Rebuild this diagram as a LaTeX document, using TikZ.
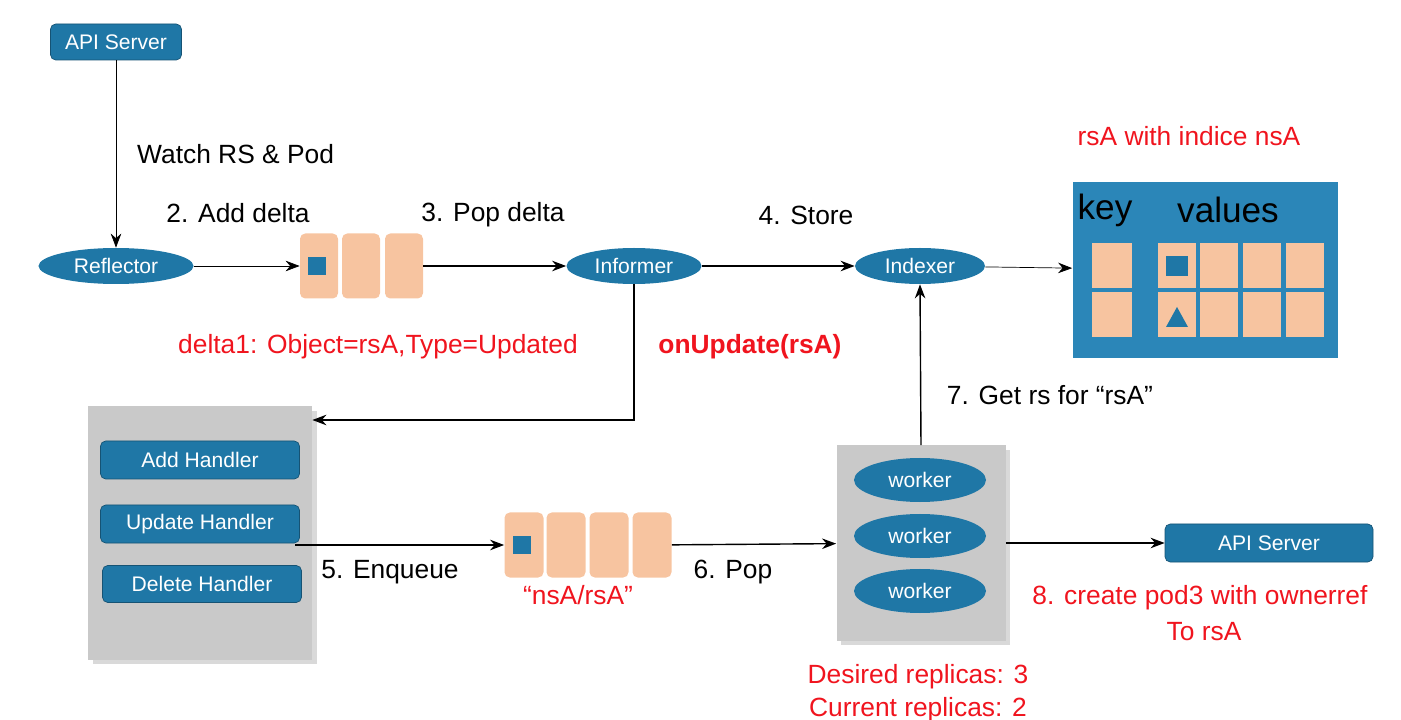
\documentclass[tikz,border=0pt]{standalone}
\usepackage{fontspec}
\setmainfont{Liberation Sans}
\usetikzlibrary{arrows.meta,shapes.geometric}
\definecolor{kblue}{HTML}{1F77A6}
\definecolor{kbox}{HTML}{2B86B8}
\definecolor{ksalmon}{HTML}{F7C4A0}
\definecolor{kgray}{HTML}{C9C9C9}
\definecolor{kred}{HTML}{F0141E}
\tikzset{
  btn/.style={draw=kblue!70!black, fill=kblue, rounded corners=3pt, text=white, font=\fontsize{12}{14}\selectfont, inner sep=0pt},
  oval/.style={ellipse, fill=kblue, text=white, font=\fontsize{12}{14}\selectfont, inner sep=0pt},
  slot/.style={fill=ksalmon, rounded corners=3pt},
  lbl/.style={font=\fontsize{15}{18}\selectfont},
  rlbl/.style={font=\fontsize{15}{18}\selectfont, text=kred},
  arr/.style={-{Stealth[length=8pt,width=6pt]}, thick},
  panel/.style={fill=kgray, drop shadow={opacity=0.3}}
}
\usetikzlibrary{shadows}
\begin{document}
\begin{tikzpicture}[x=0.2mm, y=-0.2mm]
\useasboundingbox (0,0) rectangle (1401,720);
% top row
\node[btn, minimum width=26.2mm, minimum height=7.2mm] (api1) at (116,42) {API Server};
\node[oval, minimum width=31mm, minimum height=7.2mm] (refl) at (116,266) {Reflector};
\node[oval, minimum width=27mm, minimum height=7.2mm] (inf) at (634,266) {Informer};
\node[oval, minimum width=26mm, minimum height=7.2mm] (idx) at (920,266) {Indexer};
% delta queue
\foreach \x/\n in {319/q1, 361/q2, 404/q3}
  \node[slot, minimum width=7.6mm, minimum height=13mm] (\n) at (\x,266) {};
\fill[kblue] (308,257) rectangle (326,275);
% store
\node[fill=kbox, minimum width=53mm, minimum height=35mm, inner sep=0pt] (store) at (1205,270) {};
\node[font=\fontsize{20}{24}\selectfont] at (1105,210) {key};
\node[font=\fontsize{20}{24}\selectfont] at (1228,210) {values};
\foreach \y in {266,315} {
  \node[slot, rounded corners=0pt, minimum width=8mm, minimum height=9mm] at (1112,\y) {};
  \foreach \x in {1177,1219,1262,1305}
    \node[slot, rounded corners=0pt, minimum width=7.7mm, minimum height=9mm] at (\x,\y) {};
}
\fill[kblue] (1166,256) rectangle (1188,276);
\fill[kblue] (1166,327) -- (1188,327) -- (1177,307) -- cycle;
\node[rlbl] at (1189,136) {rsA with indice nsA};
% handlers panel
\node[panel, minimum width=44.8mm, minimum height=50.6mm, inner sep=0pt] (hpanel) at (200,533) {};
\node[btn, minimum width=39.8mm, minimum height=7.6mm] (hadd) at (200,460) {Add Handler};
\node[btn, minimum width=39.8mm, minimum height=7.6mm] (hupd) at (200,524) {Update Handler};
\node[btn, minimum width=39.8mm, minimum height=7.4mm] (hdel) at (202,584) {Delete Handler};
% work queue
\foreach \x/\n in {524/w1, 566/w2, 609/w3, 652/w4}
  \node[slot, minimum width=7.8mm, minimum height=13mm] (\n) at (\x,545) {};
\fill[kblue] (513,536) rectangle (531,554);
% workers panel
\node[panel, minimum width=33.8mm, minimum height=39mm, inner sep=0pt] (wpanel) at (921,543) {};
\foreach \y/\n in {480/k1, 536/k2, 591/k3}
  \node[oval, minimum width=26.4mm, minimum height=8.8mm] (\n) at (920,\y) {worker};
\node[btn, minimum width=41.6mm, minimum height=7.6mm] (api2) at (1269,543) {API Server};
% connectors
\draw[arr, thin] (api1) -- (refl) node[midway, right=3mm, lbl, text=black] {Watch RS \& Pod};
\draw[arr, thin] (refl) -- (q1);
\draw[arr] (q3) -- (inf);
\draw[arr] (inf) -- (idx);
\draw[arr, thin] (idx) -- (store);
\coordinate (turn) at (634,420);
\draw[arr] (inf.south) -- (turn) -- (hpanel.east |- turn);
\draw[arr] (295,545) -- (w1);
\draw[arr] (w4) -- (wpanel);
\draw[arr] (wpanel.north) -- (idx.south);
\draw[arr] (wpanel.east |- api2) -- (api2);
% labels
\node[lbl] at (238,213) {2. Add delta};
\node[lbl] at (493,215) {3. Pop delta};
\node[lbl] at (806,215) {4. Store};
\node[rlbl] at (378,347) {delta1: Object=rsA,Type=Updated};
\node[rlbl, font=\bfseries\fontsize{15}{18}\selectfont] at (750,347) {onUpdate(rsA)};
\node[lbl] at (1050,395) {7. Get rs for “rsA”};
\node[lbl] at (390,572) {5. Enqueue};
\node[rlbl] at (578,595) {“nsA/rsA”};
\node[lbl] at (733,572) {6. Pop};
\node[rlbl] at (1200,598) {8. create pod3 with ownerref};
\node[rlbl] at (1204,632) {To rsA};
\node[rlbl] at (918,677) {Desired replicas: 3};
\node[rlbl] at (918,710) {Current replicas: 2};
\end{tikzpicture}
\end{document}
